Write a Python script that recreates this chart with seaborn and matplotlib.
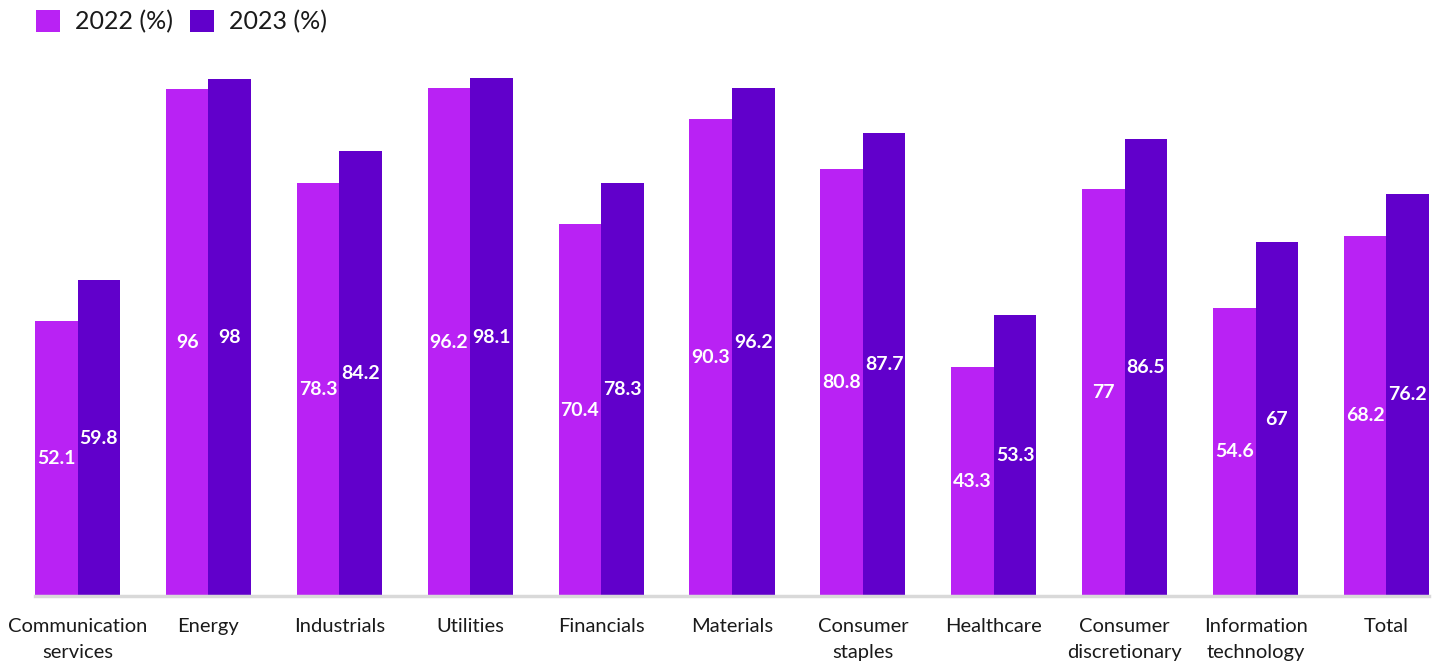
import matplotlib
matplotlib.use("Agg")
import matplotlib.pyplot as plt
import seaborn as sns
import pandas as pd
from matplotlib.patches import Patch

categories = ["Communication\nservices", "Energy", "Industrials", "Utilities", "Financials",
              "Materials", "Consumer\nstaples", "Healthcare", "Consumer\ndiscretionary",
              "Information\ntechnology", "Total"]
series_names = ["2022 (%)", "2023 (%)"]
values_2022 = [52.1, 96, 78.3, 96.2, 70.4, 90.3, 80.8, 43.3, 77, 54.6, 68.2]
values_2023 = [59.8, 98, 84.2, 98.1, 78.3, 96.2, 87.7, 53.3, 86.5, 67, 76.2]
colors = ["#b922f4", "#6100cb"]

df = pd.DataFrame({
    "category": categories * 2,
    "series": [series_names[0]] * len(categories) + [series_names[1]] * len(categories),
    "value": values_2022 + values_2023,
})

sns.set_theme(style="white")
plt.rcParams["font.family"] = ["Lato", "DejaVu Sans"]

fig = plt.figure(figsize=(14.44, 6.65), dpi=100)
ax = fig.add_axes([35 / 1444, 69 / 665, 1394 / 1444, 528 / 665])

sns.barplot(data=df, x="category", y="value", hue="series", palette=colors,
            width=0.65, dodge=True, ax=ax, legend=False, saturation=1, linewidth=0)

for cont in ax.containers:
    labels = ["%g" % b.get_height() for b in cont]
    ax.bar_label(cont, labels=labels, label_type="center", color="white",
                 fontsize=14, fontweight="bold")

ax.set_xlim(-0.325, len(categories) - 1 + 0.325)
ax.set_ylim(0, 100)
ax.set_xlabel("")
ax.set_ylabel("")
ax.set_yticks([])
for s in ["top", "right", "left"]:
    ax.spines[s].set_visible(False)
ax.spines["bottom"].set_color("#d9d9d9")
ax.spines["bottom"].set_linewidth(2.5)
ax.tick_params(axis="x", length=0, pad=16, labelsize=14.5, labelcolor="#1a1a1a")
for t in ax.get_xticklabels():
    t.set_linespacing(1.65)
    t.set_verticalalignment("top")

handles = [Patch(facecolor=c, edgecolor="none") for c in colors]
fig.legend(handles, series_names, loc="upper left", bbox_to_anchor=(36 / 1444, 1 - 10 / 665),
           ncol=2, frameon=False, fontsize=18, handlelength=0.95, handleheight=0.95,
           handletextpad=0.6, columnspacing=0.7, labelcolor="#1a1a1a",
           borderpad=0, borderaxespad=0)

fig.savefig("out.png", dpi=100)
